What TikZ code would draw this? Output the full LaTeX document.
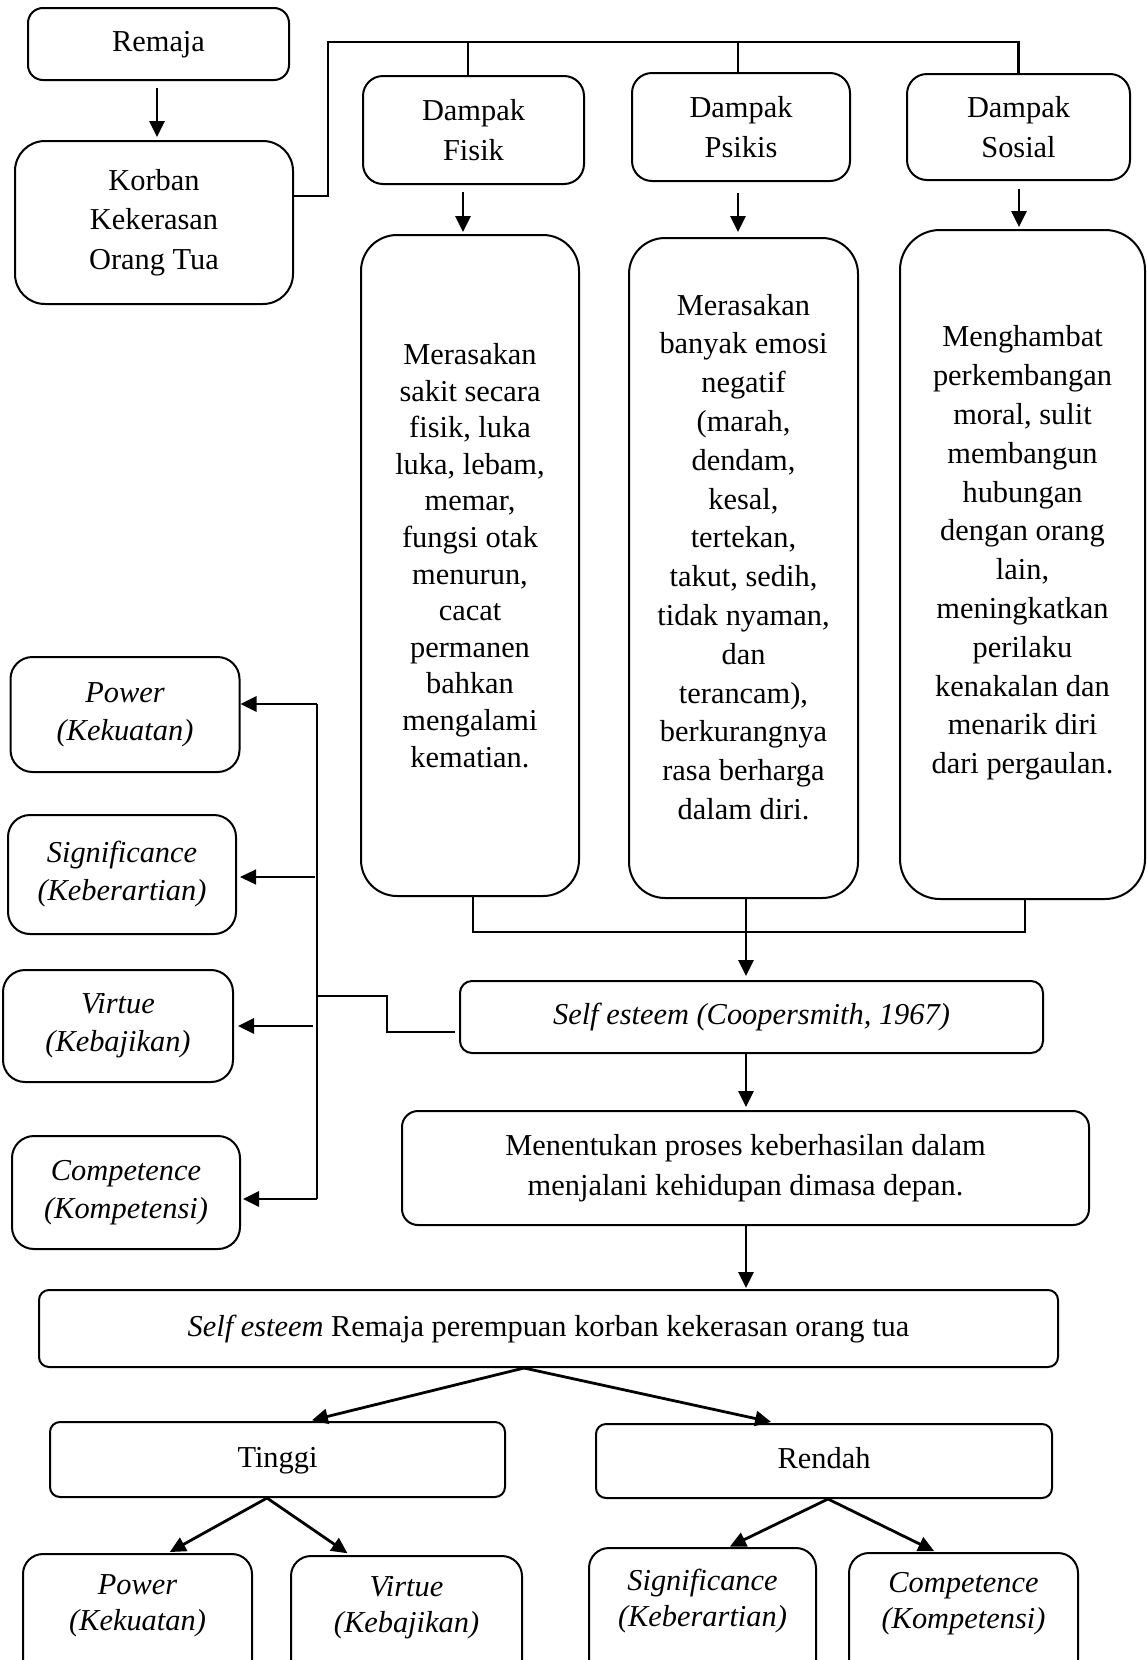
\documentclass[tikz,border=0pt]{standalone}
\usepackage{fontspec}
\setmainfont{Liberation Serif}
\usetikzlibrary{arrows.meta,calc}
\begin{document}
\begin{tikzpicture}[x=0.5pt,y=-0.5pt,
  box/.style={draw, line width=1pt, align=center, inner sep=0pt,
    font=\fontsize{15.2}{19.8}\selectfont},
  boxit/.style={box, font=\fontsize{15.2}{19}\selectfont\itshape},
  txt/.style={align=center, inner sep=0pt, font=\fontsize{15.2}{19.4}\selectfont},
  txtit/.style={align=center, inner sep=0pt, font=\fontsize{15.2}{18}\selectfont\itshape},
  sz/.style 2 args={minimum width={#1*0.5pt}, minimum height={#2*0.5pt}},
  ln/.style={line width=1.2pt},
  arr/.style={line width=1.4pt, -{Triangle[length=8pt,width=7.5pt]}}
]
\useasboundingbox (0,0) rectangle (1146,1660);
\clip (0,0) rectangle (1146,1660);

% top left
\node[box, sz={261}{72}, rounded corners=7.5pt] (remaja) at (158.5,44) {Remaja\strut};
\node[box, sz={278}{163}, rounded corners=15pt] (korban) at (154,222.5) {Korban\\Kekerasan\\Orang Tua};

% dampak boxes
\node[box, sz={221}{108}, rounded corners=10pt] (fisik) at (473.5,130) {Dampak\\Fisik};
\node[box, sz={218}{108}, rounded corners=10pt] (psikis) at (741,127) {Dampak\\Psikis};
\node[box, sz={223}{106}, rounded corners=10pt] (sosial) at (1018.5,127) {Dampak\\Sosial};

% big boxes
\node[box, sz={218}{661}, rounded corners=18pt] (fisikbig) at (470,565.5) {};
\node[box, sz={229}{660}, rounded corners=18pt] (psikisbig) at (743.5,568) {};
\node[box, sz={245}{669}, rounded corners=20pt] (sosialbig) at (1022.5,564.5) {};
\node[txt, font=\fontsize{15.2}{18.3}\selectfont] (fisiktxt) at (470,555.5)
  {Merasakan\\sakit secara\\fisik, luka\\luka, lebam,\\memar,\\fungsi otak\\menurun,\\cacat\\permanen\\bahkan\\mengalami\\kematian.};
\node[txt] (psikistxt) at (743.5,557)
  {Merasakan\\banyak emosi\\negatif\\(marah,\\dendam,\\kesal,\\tertekan,\\takut, sedih,\\tidak nyaman,\\dan\\terancam),\\berkurangnya\\rasa berharga\\dalam diri.};
\node[txt] (sosialtxt) at (1022.5,553)
  {Menghambat\\perkembangan\\moral, sulit\\membangun\\hubungan\\dengan orang\\lain,\\meningkatkan\\perilaku\\kenakalan dan\\menarik diri\\dari pergaulan.};

% left italic boxes
\node[boxit, sz={229}{115}, rounded corners=11pt] (powerL) at (125,714.5) {Power\\(Kekuatan)};
\node[boxit, sz={228}{119}, rounded corners=11pt] (signifL) at (122,874.5) {Significance\\(Keberartian)};
\node[boxit, sz={230}{112}, rounded corners=11pt] (virtueL) at (118,1026) {Virtue\\(Kebajikan)};
\node[boxit, sz={228}{113}, rounded corners=11pt] (competL) at (126,1192.5) {Competence\\(Kompetensi)};

% middle chain
\node[box, sz={583}{72}, rounded corners=6pt] (selfest) at (751.5,1017) {\textit{Self esteem (Coopersmith, 1967)}\strut};
\node[box, sz={687}{114}, rounded corners=8pt] (menentukan) at (745.5,1168) {Menentukan proses keberhasilan dalam\\menjalani kehidupan dimasa depan.};
\node[box, sz={1019}{77}, rounded corners=5pt] (selfremaja) at (548.5,1328.5) {\textit{Self esteem} Remaja perempuan korban kekerasan orang tua\strut};
\node[box, sz={455}{75}, rounded corners=5pt] (tinggi) at (277.5,1459.5) {Tinggi\strut};
\node[box, sz={456}{74}, rounded corners=5pt] (rendah) at (824,1461) {Rendah\strut};

% bottom boxes (cut off)
\node[box, sz={229}{166}, rounded corners=10pt] (powerB) at (137.5,1637) {};
\node[box, sz={231}{164}, rounded corners=10pt] (virtueB) at (406.5,1638) {};
\node[box, sz={227}{172}, rounded corners=10pt] (signifB) at (702.5,1634) {};
\node[box, sz={229}{167}, rounded corners=10pt] (competB) at (963.5,1636.5) {};
\node[txtit] (powerBt) at (137.5,1606) {Power\\(Kekuatan)};
\node[txtit] (virtueBt) at (406.5,1608) {Virtue\\(Kebajikan)};
\node[txtit] (signifBt) at (702.5,1601) {Significance\\(Keberartian)};
\node[txtit] (competBt) at (963.5,1604) {Competence\\(Kompetensi)};

% coordinates
\coordinate (x1) at (157,0);
\coordinate (kc) at (293,196);
\coordinate (bus) at (328,42);
\coordinate (xfd) at (468,0);
\coordinate (xpd) at (738,0);
\coordinate (xf) at (463,0);
\coordinate (xp) at (738,0);
\coordinate (xs) at (1019,0);
\coordinate (col) at (0,932);
\coordinate (xfb) at (473,0);
\coordinate (xsb) at (1025,0);
\coordinate (xm) at (746,0);
\coordinate (xsr) at (524,0);
\coordinate (xt) at (309,0);
\coordinate (xr) at (776,0);
\coordinate (xti) at (267,0);
\coordinate (xpb) at (168,0);
\coordinate (xvb) at (350,0);
\coordinate (xre) at (828,0);
\coordinate (xsg) at (729,0);
\coordinate (xcp) at (936,0);
\coordinate (sx) at (387,0);
\coordinate (sy1) at (0,1032);
\coordinate (bus2) at (317,996);
\coordinate (bt) at (317,704);
\coordinate (bb) at (317,1199);
\coordinate (bs) at (315,877);
\coordinate (bv) at (313,1026);

% top connectors
\draw[arr, shorten <=3.5pt, shorten >=1.5pt] (remaja.south -| x1) -- (korban.north -| x1);
\draw[ln] (korban.east |- kc) -| (bus) -| (sosial.north);
\draw[ln] (fisik.north -| xfd) -- (bus -| xfd);
\draw[ln] (psikis.north -| xpd) -- (bus -| xpd);
\draw[arr, shorten <=3.5pt, shorten >=1pt] (fisik.south -| xf) -- (fisikbig.north -| xf);
\draw[arr, shorten <=5.5pt, shorten >=2.5pt] (psikis.south -| xp) -- (psikisbig.north -| xp);
\draw[arr, shorten <=4pt, shorten >=1pt] (sosial.south -| xs) -- (sosialbig.north -| xs);

% collector
\draw[ln] (fisikbig.south -| xfb) |- (col -| xsb) -- (sosialbig.south -| xsb);
\draw[arr, shorten >=2pt] (psikisbig.south -| xm) -- (selfest.north -| xm);
\draw[arr, shorten >=1.5pt] (selfest.south -| xm) -- (menentukan.north -| xm);
\draw[arr, shorten >=0.5pt] (menentukan.south -| xm) -- (selfremaja.north -| xm);

% split
\draw[arr, shorten >=1.5pt] (selfremaja.south -| xsr) -- (tinggi.north -| xt);
\draw[arr, shorten >=2.5pt] (selfremaja.south -| xsr) -- (rendah.north -| xr);
\draw[arr, shorten >=1pt] (tinggi.south -| xti) -- (powerB.north -| xpb);
\draw[arr, shorten >=1.5pt] (tinggi.south -| xti) -- (virtueB.north -| xvb);
\draw[arr, shorten >=0.5pt] (rendah.south -| xre) -- (signifB.north -| xsg);
\draw[arr, shorten >=1pt] (rendah.south -| xre) -- (competB.north -| xcp);

% left side
\draw[ln, shorten <=2pt] (selfest.west |- sy1) -- (sx |- sy1) |- (bus2);
\draw[ln] (bt) -- (bb);
\draw[arr] (bt) -- (powerL.east |- bt);
\draw[arr, line width=0.6pt, shorten >=1.5pt] (bs) -- (signifL.east |- bs);
\draw[arr, shorten >=2pt] (bv) -- (virtueL.east |- bv);
\draw[arr, shorten >=1pt] (bb) -- (competL.east |- bb);
\end{tikzpicture}
\end{document}
